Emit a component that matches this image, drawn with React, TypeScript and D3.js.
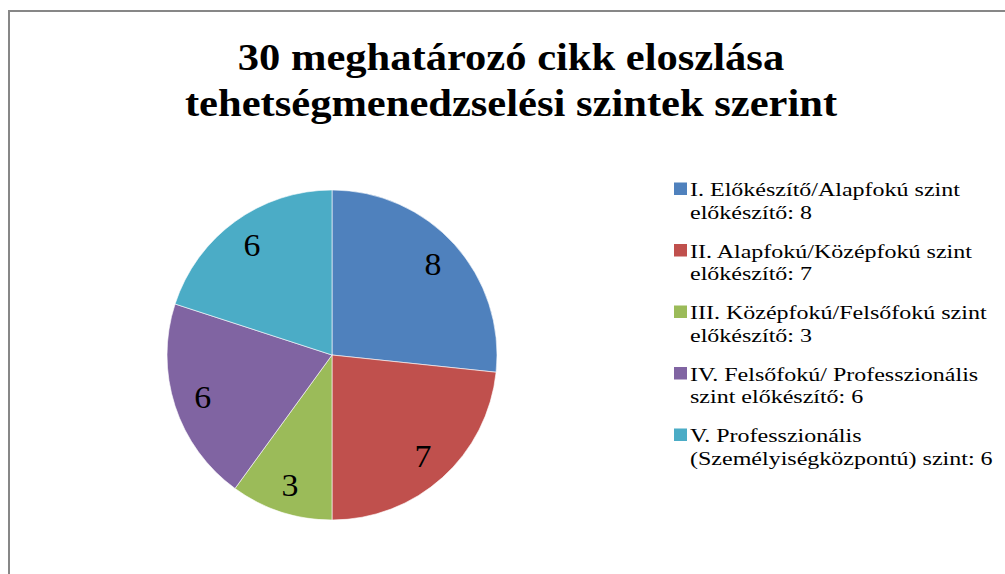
import React from "react";
import * as d3 from "d3";

const categories = [
  ["I. Előkészítő/Alapfokú szint", "előkészítő: 8"],
  ["II. Alapfokú/Középfokú szint", "előkészítő: 7"],
  ["III. Középfokú/Felsőfokú szint", "előkészítő: 3"],
  ["IV. Felsőfokú/ Professzionális", "szint előkészítő: 6"],
  ["V. Professzionális", "(Személyiségközpontú) szint: 6"],
];
const values = [8, 7, 3, 6, 6];
const colors = ["#4F81BD", "#C0504D", "#9BBB59", "#8064A2", "#4BACC6"];
const titleLines = ["30 meghatározó cikk eloszlása", "tehetségmenedzselési szintek szerint"];

const FONT = "'Liberation Serif', 'Times New Roman', serif";

export default function App() {
  const W = 1005, H = 574;
  const cx = 332, cy = 355, r = 165;
  const pie = d3.pie<number>().sort(null).value((d) => d)(values);
  const arc = d3.arc<d3.PieArcDatum<number>>().innerRadius(0).outerRadius(r);
  const labelR = 136;
  const labelArc = d3.arc<d3.PieArcDatum<number>>().innerRadius(labelR * 2 - r).outerRadius(r);
  const legendY = d3.scaleLinear().domain([0, 1]).range([196, 257.5]);
  return (
    <svg width={W} height={H} style={{ position: "absolute", left: 0, top: 0 }}>
      <rect x={0} y={0} width={W} height={H} fill="#fff" />
      <path d={`M9,${H} L9,11 L${W},11`} fill="none" stroke="#878787" strokeWidth={2} />
      <g fontFamily={FONT} fontWeight="bold" fontSize={38} textAnchor="middle" fill="#000">
        {titleLines.map((t, i) => (
          <text key={i} transform={`translate(511,${70 + i * 46}) scale(1.12,1)`}>{t}</text>
        ))}
      </g>
      <g transform={`translate(${cx},${cy})`}>
        {pie.map((p, i) => (
          <path key={i} d={arc(p) || ""} fill={colors[i]} stroke="#fff" strokeWidth={0.6} />
        ))}
        {pie.map((p, i) => {
          const [x, y] = labelArc.centroid(p);
          return (
            <text key={"l" + i} transform={`translate(${x},${y}) scale(1.06,1)`} dy="0.35em" textAnchor="middle" fontFamily={FONT} fontSize={32} fill="#000">
              {values[i]}
            </text>
          );
        })}
      </g>
      <g fontFamily={FONT} fontSize={19.6} fill="#000">
        {categories.map((c, i) => {
          const y0 = legendY(i);
          return (
            <g key={i}>
              <rect x={674} y={y0 - 13.5} width={13} height={12.5} fill={colors[i]} />
              <text transform={`translate(690,${y0}) scale(1.225,1)`}>{c[0]}</text>
              <text transform={`translate(690,${y0 + 22.5}) scale(1.225,1)`}>{c[1]}</text>
            </g>
          );
        })}
      </g>
    </svg>
  );
}
